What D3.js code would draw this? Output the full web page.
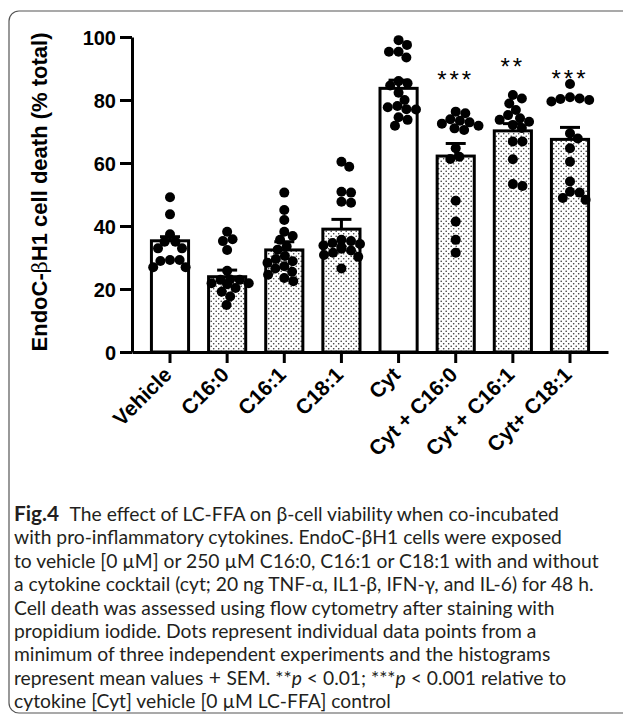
<!DOCTYPE html>
<html><head><meta charset="utf-8">
<script src="https://cdn.jsdelivr.net/npm/d3@7/dist/d3.min.js"></script>
<style>body{margin:0;background:#fff}</style>
</head><body>
<svg id="c" width="623" height="715"></svg>
<script>
// ---- data ----
const categories = ["Vehicle","C16:0","C16:1","C18:1","Cyt","Cyt + C16:0","Cyt + C16:1","Cyt+ C18:1"];
const patterned  = [false,true,true,true,false,true,true,true];
const means = [35.3,23.9,32.4,39.0,83.7,62.2,70.2,67.5];
const sems  = [1.3,2.1,2.6,3.1,2.6,4.0,2.3,3.8];
const ptsVehicle = [49.1,43.7,37.4,35.0,35.0,32.9,32.9,29.2,29.2,28.9,26.9,26.9];
const ptsC160 = [38.2,35.8,35.2,32.4,25.8,23.0,22.9,22.9,21.8,21.8,21.5,20.3,19.1,17.6,14.9];
const ptsC161 = [50.6,45.1,41.9,38.2,36.8,35.6,33.5,32.5,30.5,29.5,28.8,28.3,27.2,26.5,25.5,24.5,23.5,22.5];
const ptsC181 = [60.4,58.8,50.9,50.6,47.7,47.4,35.6,35.2,34.6,34.3,33.8,33.3,32.8,32.2,31.5,30.8,30.2,26.5];
const ptsCyt = [99.0,97.5,95.3,95.3,93.5,86.0,85.3,84.6,82.3,80.0,78.1,77.7,77.1,77.0,74.5,73.7,71.8];
const ptsCytC160 = [76.3,75.8,73.9,73.4,72.9,72.5,71.8,71.0,70.5,64.7,62.0,61.3,48.0,41.4,35.6,31.5];
const ptsCytC161 = [81.6,80.5,78.9,76.8,75.2,74.2,73.7,73.1,72.1,71.1,66.8,66.8,61.2,53.3,52.7];
const ptsCytC181 = [85.1,80.9,80.5,80.3,80.0,79.5,69.4,67.8,64.7,60.4,54.1,50.9,50.6,48.9,48.3];
const points = [ptsVehicle,ptsC160,ptsC161,ptsC181,ptsCyt,ptsCytC160,ptsCytC161,ptsCytC181];
const significance = ["","","","","","***","**","***"];
const sigLevel = [null,null,null,null,null,89.0,93.2,89.5];
const yTicks = [0,20,40,60,80,100];
const yTitle = ["EndoC-","β","H1 cell death (% total)"];
const captionLines = [
  [["Fig.4","b"],["The effect of LC-FFA on β-cell viability when co-incubated","g"]],
  [["with pro-inflammatory cytokines. EndoC-βH1 cells were exposed",""]],
  [["to vehicle [0 µM] or 250 µM C16:0, C16:1 or C18:1 with and without",""]],
  [["a cytokine cocktail (cyt; 20 ng TNF-α, IL1-β, IFN-γ, and IL-6) for 48 h.",""]],
  [["Cell death was assessed using flow cytometry after staining with",""]],
  [["propidium iodide. Dots represent individual data points from a",""]],
  [["minimum of three independent experiments and the histograms",""]],
  [["represent mean values",""],[" + ","p"],["SEM. **",""],["p","i"],[" < 0.01; ***",""],["p","i"],[" < 0.001 relative to",""]],
  [["cytokine [Cyt] vehicle [0 µM LC-FFA] control",""]]
];

// ---- drawing ----
const svg = d3.select("#c");
svg.append("rect").attr("x",9).attr("y",11).attr("width",720).attr("height",702)
   .attr("rx",10).attr("fill","none").attr("stroke","#555").attr("stroke-width",1.2);

const defs = svg.append("defs");
const pat = defs.append("pattern").attr("id","dots").attr("patternUnits","userSpaceOnUse")
  .attr("width",5).attr("height",5);
pat.append("rect").attr("width",5).attr("height",5).attr("fill","#fff");
pat.append("circle").attr("cx",1.2).attr("cy",1.2).attr("r",0.8).attr("fill","#333");
pat.append("circle").attr("cx",3.7).attr("cy",3.7).attr("r",0.8).attr("fill","#333");

const y = d3.scaleLinear().domain([0,100]).range([352,37]);
const x = d3.scaleBand().domain(categories).range([132,608]).paddingInner(0.35).paddingOuter(0.34);
const bw = x.bandwidth();
const R = 5;

// bars
svg.append("g").selectAll("rect").data(categories).join("rect")
  .attr("x",d=>x(d)).attr("width",bw)
  .attr("y",(d,i)=>y(means[i])).attr("height",(d,i)=>y(0)-y(means[i]))
  .attr("fill",(d,i)=>patterned[i]?"url(#dots)":"#fff")
  .attr("stroke","#000").attr("stroke-width",3);

// error bars (mean + SEM)
const eb = svg.append("g").attr("stroke","#000").attr("stroke-width",3);
categories.forEach((c,i)=>{
  const cx = x(c)+bw/2;
  eb.append("line").attr("x1",cx).attr("x2",cx).attr("y1",y(means[i])).attr("y2",y(means[i]+sems[i]));
  eb.append("line").attr("x1",cx-10).attr("x2",cx+10).attr("y1",y(means[i]+sems[i])).attr("y2",y(means[i]+sems[i]));
});

// scatter (beeswarm layout computed from values)
const dotG = svg.append("g").attr("fill","#000");
categories.forEach((c,i)=>{
  const cx = x(c)+bw/2;
  const placed = [];
  const vals = points[i].slice().sort((a,b)=>b-a);
  vals.forEach(v=>{
    const py = y(v);
    let best = 0, found=false;
    for(let k=0;k<=40 && !found;k++){
      for(const s of (k===0?[0]:[k*0.6,-k*0.6])){
        const ok = placed.every(p=>Math.hypot(p[0]-(cx+s),p[1]-py) >= 2*R*0.92);
        if(ok){best=s;found=true;break;}
      }
    }
    placed.push([cx+best,py]);
  });
  placed.forEach(p=>dotG.append("circle").attr("cx",p[0]).attr("cy",p[1]).attr("r",R));
});

// axes
const yAxis = svg.append("g").attr("transform",`translate(132,0)`)
  .call(d3.axisLeft(y).tickValues(yTicks).tickSize(12).tickSizeOuter(0).tickPadding(4));
const xAxis = svg.append("g").attr("transform",`translate(0,352)`)
  .call(d3.axisBottom(x).tickSize(11).tickSizeOuter(0));
[yAxis,xAxis].forEach(a=>{
  a.select(".domain").attr("stroke","#000").attr("stroke-width",3);
  a.selectAll(".tick line").attr("stroke","#000").attr("stroke-width",3);
});
yAxis.selectAll("text").attr("font-family","Liberation Sans, Arial, sans-serif")
  .attr("font-weight","bold").attr("font-size",20).attr("fill","#000").attr("dy","0.36em");
xAxis.selectAll("text").attr("font-family","Liberation Sans, Arial, sans-serif")
  .attr("font-weight","bold").attr("font-size",21).attr("fill","#000")
  .attr("text-anchor","end").attr("dy",0).attr("y",0)
  .attr("transform","translate(3,24) rotate(-45)");

// y title
const yt = svg.append("text").attr("transform","translate(47,192) rotate(-90)")
  .attr("text-anchor","middle").attr("font-family","Liberation Sans, Arial, sans-serif")
  .attr("font-size",22).attr("font-weight","bold").attr("fill","#000");
yt.append("tspan").text(yTitle[0]);
yt.append("tspan").attr("font-weight","normal").attr("font-family","DejaVu Serif, serif").attr("font-size",21).text(yTitle[1]);
yt.append("tspan").text(yTitle[2]);

// significance
svg.append("g").selectAll("text").data(categories).join("text")
  .filter((d,i)=>significance[i])
  .attr("x",d=>x(d)+bw/2)
  .attr("y",d=>y(sigLevel[categories.indexOf(d)]))
  .attr("dy","0.7em")
  .attr("text-anchor","middle").attr("font-family","Liberation Sans, Arial, sans-serif")
  .attr("font-size",24).attr("letter-spacing",3)
  .text(d=>significance[categories.indexOf(d)]);

// caption (font size fitted so the widest line spans the frame width)
const cap = svg.append("text").attr("font-family","Lato, sans-serif").attr("font-size",18).attr("fill","#231f20");
captionLines.forEach((line,li)=>{
  line.forEach((seg,si)=>{
    const t = cap.append("tspan").text(seg[0]);
    if(si===0) t.attr("x",14).attr("y",521+li*23.4);
    if(seg[1]==="b") t.attr("font-weight","bold").attr("font-size","1.08em");
    if(seg[1]==="g") t.attr("dx","0.55em");
    if(seg[1]==="i") t.attr("font-style","italic");
    if(seg[1]==="p") t.attr("font-size","1.1em");
  });
});
// measure line 3 and fit
const probe = svg.append("text").attr("font-family","Lato, sans-serif").attr("font-size",18).text(captionLines[2][0][0]);
const w = probe.node().getComputedTextLength(); probe.remove();
cap.attr("font-size", 18*585/w);
</script>
</body></html>
